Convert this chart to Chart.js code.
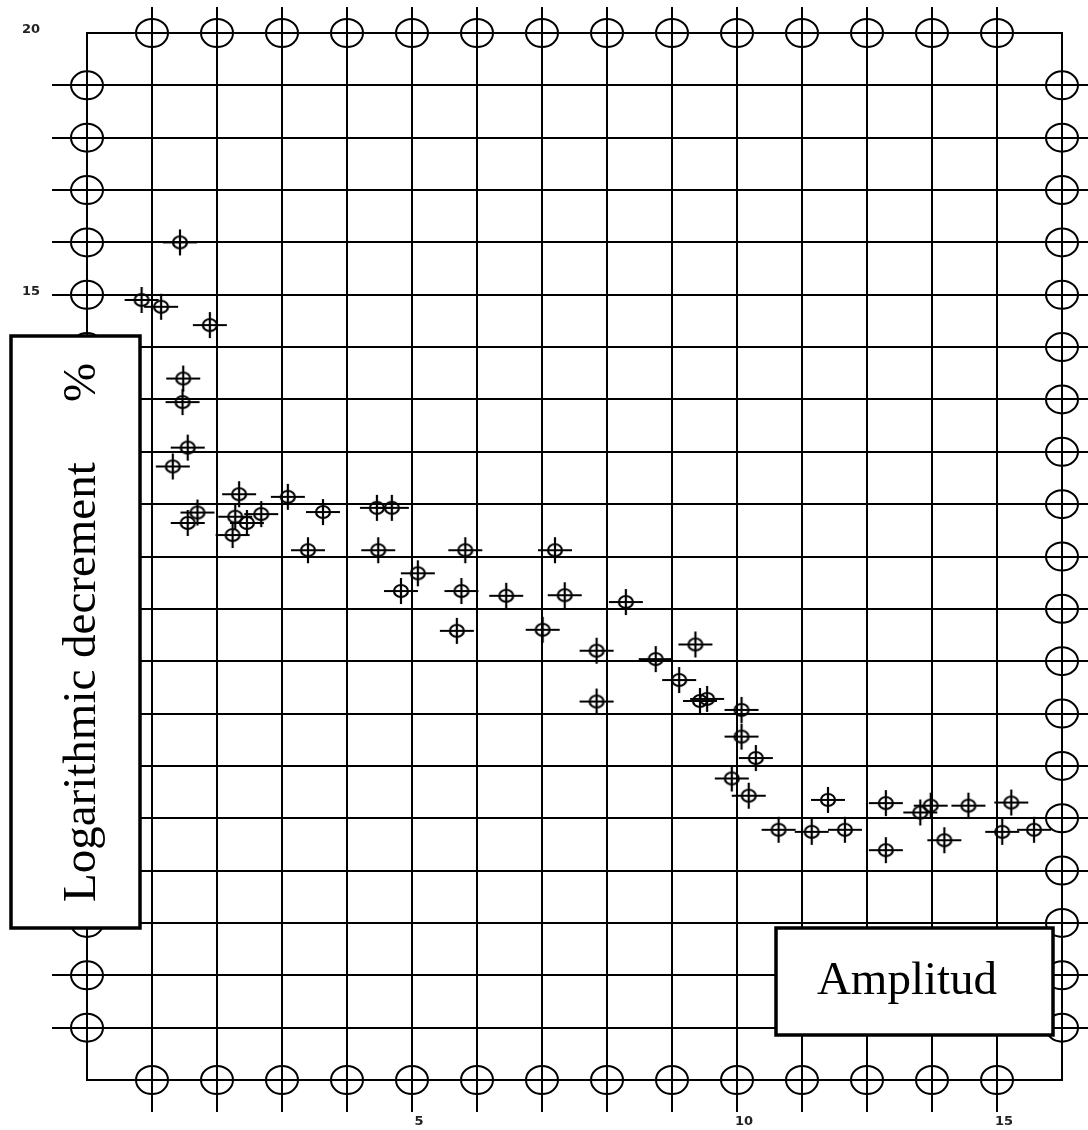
<!DOCTYPE html>
<html>
<head>
<meta charset="utf-8">
<title>Logarithmic decrement vs Amplitud</title>
<script src="https://cdn.jsdelivr.net/npm/chart.js@4.4.1/dist/chart.umd.min.js"></script>
<style>
  html,body{margin:0;padding:0;background:#fff;}
  #wrap{position:relative;width:1088px;height:1130px;}
</style>
</head>
<body>
<div id="wrap"><canvas id="cDecrement"></canvas></div>
<script>
// ── data (x = amplitud in grid units, y = decrement %) ──
var ampl=[1.43,0.84,1.14,1.89,1.48,1.47,1.55,1.32,2.34,1.70,1.55,2.28,2.46,2.68,2.24,3.09,3.63,4.46,4.69,3.40,
  4.48,5.82,7.20,5.09,4.83,5.76,6.45,7.35,8.29,5.69,7.01,7.84,8.75,9.36,9.11,7.84,9.43,9.54,10.07,10.07,
  10.29,9.92,10.18,10.64,11.15,11.66,11.40,12.29,12.29,12.82,12.98,13.19,13.56,14.22,14.08,14.57];
var decr=[16.00,14.90,14.77,14.42,13.40,12.95,12.08,11.72,11.19,10.84,10.64,10.76,10.64,10.81,10.41,11.14,10.85,10.93,10.93,10.12,
  10.12,10.12,10.12,9.68,9.34,9.34,9.25,9.26,9.13,8.58,8.60,8.20,8.04,8.32,7.64,7.23,7.24,7.28,7.07,6.56,
  6.15,5.76,5.43,4.78,4.74,4.78,5.35,5.29,4.39,5.11,5.24,4.58,5.24,5.30,4.74,4.78];

// tick labels per grid line (the "15" sits one line early in the original)
var xTickText=["","","","","","5","","","","","10","","","","15",""];
var yTickText=["","","","","","5","","","","","10","","","","","15","","","","","20"];

var yTitle="Logarithmic decrement";
var yUnit="%";
var xTitle="Amplitud";

var INK="#000";

function makeMarker(){
  var c=document.createElement("canvas");
  c.width=40;c.height=30;
  var g=c.getContext("2d");
  g.strokeStyle=INK;g.lineWidth=2.2;
  g.beginPath();g.ellipse(20,15,7,6,0,0,Math.PI*2);g.stroke();
  g.beginPath();
  g.moveTo(3,15);g.lineTo(37,15);
  g.moveTo(20,2);g.lineTo(20,28);
  g.stroke();
  return c;
}

function edgeHidden(min,max){
  return function(ctx){
    var v=ctx.tick?ctx.tick.value:null;
    return (v===min||v===max)?"rgba(0,0,0,0)":INK;
  };
}

// big rings on the frame at each tick
var frameRings={
  id:"frameRings",
  afterDatasetsDraw:function(chart){
    var c=chart.ctx,s=chart.scales,a=chart.chartArea;
    c.save();
    c.strokeStyle=INK;c.lineWidth=2;
    function ring(x,y){c.beginPath();c.ellipse(x,y,16,14,0,0,Math.PI*2);c.stroke();}
    s.x.ticks.forEach(function(t){
      if(t.value<=s.x.min||t.value>=s.x.max)return;
      var px=s.x.getPixelForValue(t.value);
      ring(px,a.top);ring(px,a.bottom);
    });
    s.y.ticks.forEach(function(t){
      if(t.value<=s.y.min||t.value>=s.y.max)return;
      var py=s.y.getPixelForValue(t.value);
      ring(a.left,py);ring(a.right,py);
    });
    c.restore();
  }
};

// the two boxed captions
var captions={
  id:"captions",
  afterDraw:function(chart){
    var c=chart.ctx;
    c.save();
    c.fillStyle="#fff";c.strokeStyle="#000";c.lineWidth=3.5;
    c.fillRect(11,336,129,592);c.strokeRect(11,336,129,592);
    c.fillRect(776,928,277,107);c.strokeRect(776,928,277,107);
    c.fillStyle="#000";
    c.font='47px "Liberation Serif","Times New Roman",serif';
    c.textBaseline="alphabetic";
    c.save();
    c.translate(95,902);c.rotate(-Math.PI/2);
    c.textAlign="left";
    c.fillText(yTitle,0,0);
    c.fillText(yUnit,500,0);
    c.restore();
    c.textAlign="center";
    c.fillText(xTitle,907,994);
    c.restore();
  }
};

var tickFont={family:"DejaVu Sans",size:13,weight:"bold"};

new Chart(document.getElementById("cDecrement"),{
  type:"scatter",
  data:{
    datasets:[{
      label:"Decrement",
      data:ampl.map(function(v,i){return{x:v,y:decr[i]};}),
      pointStyle:makeMarker(),
      pointRadius:6,
      showLine:false
    }]
  },
  options:{
    responsive:true,
    maintainAspectRatio:false,
    animation:false,
    layout:{padding:0},
    plugins:{legend:{display:false},tooltip:{enabled:false}},
    scales:{
      x:{
        type:"linear",position:"bottom",min:0,max:15,
        afterFit:function(s){s.height=50;},
        grid:{color:edgeHidden(0,15),lineWidth:2,tickLength:32,drawTicks:true},
        border:{display:true,color:INK,width:2},
        ticks:{stepSize:1,autoSkip:false,maxRotation:0,padding:2,labelOffset:7,color:"#222",font:tickFont,
          callback:function(v){return xTickText[v]||"";}}
      },
      x2:{
        type:"linear",position:"top",min:0,max:15,
        afterFit:function(s){s.height=33;},
        grid:{color:edgeHidden(0,15),lineWidth:2,tickLength:26,drawOnChartArea:false},
        border:{display:true,color:INK,width:2},
        ticks:{stepSize:1,autoSkip:false,display:false}
      },
      y:{
        type:"linear",position:"left",min:0,max:20,
        afterFit:function(s){s.width=87;},
        grid:{color:edgeHidden(0,20),lineWidth:2,tickLength:35},
        border:{display:true,color:INK,width:2},
        ticks:{stepSize:1,autoSkip:false,padding:12,labelOffset:-3,color:"#222",font:tickFont,
          callback:function(v){return yTickText[v]||"";}}
      },
      y2:{
        type:"linear",position:"right",min:0,max:20,
        afterFit:function(s){s.width=26;},
        grid:{color:edgeHidden(0,20),lineWidth:2,tickLength:26,drawOnChartArea:false},
        border:{display:true,color:INK,width:2},
        ticks:{stepSize:1,autoSkip:false,display:false}
      }
    }
  },
  plugins:[frameRings,captions]
});
</script>
</body>
</html>
